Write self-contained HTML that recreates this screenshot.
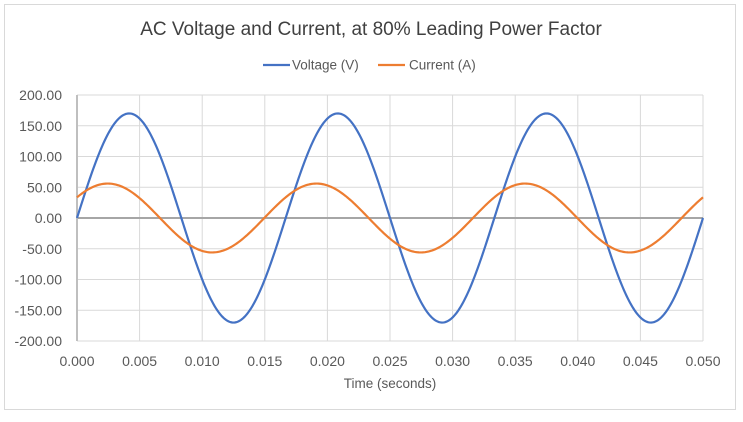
<!DOCTYPE html>
<html><head><meta charset="utf-8"><style>
body{margin:0;background:#fff;}
svg text{font-family:"Liberation Sans",sans-serif;fill:#595959;}
</style></head><body>
<svg id="s" width="743" height="417" xmlns="http://www.w3.org/2000/svg">
<rect x="4.5" y="4.5" width="731" height="405" fill="#fff" stroke="#d9d9d9"/>
<text x="371" y="35" text-anchor="middle" font-size="19" style="fill:#404040">AC Voltage and Current, at 80% Leading Power Factor</text>
<line x1="263" y1="65" x2="290" y2="65" stroke="#4472c4" stroke-width="2.2"/>
<text x="292" y="69.5" font-size="13.5">Voltage (V)</text>
<line x1="378" y1="65" x2="405" y2="65" stroke="#ed7d31" stroke-width="2.2"/>
<text x="409" y="69.5" font-size="13.5">Current (A)</text>
<g id="grid" stroke="#d9d9d9" stroke-width="1"></g>
<g id="lab" font-size="14"></g>
<line x1="77" y1="218" x2="703" y2="218" stroke="#a6a6a6" stroke-width="2"/>
<line x1="77" y1="95" x2="77" y2="341" stroke="#bfbfbf" stroke-width="2"/>
<path id="v" fill="none" stroke="#4472c4" stroke-width="2.2"/>
<path id="c" fill="none" stroke="#ed7d31" stroke-width="2.2"/>
<text x="390" y="388" text-anchor="middle" font-size="13.5">Time (seconds)</text>
</svg>
<script>
var g=document.getElementById('grid'),l=document.getElementById('lab');
function X(t){return 77+t/0.05*626}function Y(v){return 218-v*123/200}
var h='';
for(var i=0;i<=8;i++){var v=200-i*50,y=Y(v);h+='<line x1="77" y1="'+y+'" x2="703" y2="'+y+'"/>';}
for(var i=0;i<=10;i++){var x=X(i*0.005);h+='<line x1="'+x+'" y1="95" x2="'+x+'" y2="341"/>';}
g.innerHTML=h;
var t='';
for(var i=0;i<=8;i++){var v=200-i*50;t+='<text x="62" y="'+(Y(v)+5)+'" text-anchor="end">'+v.toFixed(2)+'</text>';}
for(var i=0;i<=10;i++){t+='<text x="'+X(i*0.005)+'" y="366" text-anchor="middle">'+(i*0.005).toFixed(3)+'</text>';}
l.innerHTML=t;
var w=2*Math.PI*60,ph=Math.acos(0.8),pv='',pc='';
for(var k=0;k<=500;k++){var s=k*0.05/500;pv+=(k?'L':'M')+X(s).toFixed(2)+','+Y(170*Math.sin(w*s)).toFixed(2);pc+=(k?'L':'M')+X(s).toFixed(2)+','+Y(56*Math.sin(w*s+ph)).toFixed(2);}
document.getElementById('v').setAttribute('d',pv);document.getElementById('c').setAttribute('d',pc);
</script>
</body></html>
